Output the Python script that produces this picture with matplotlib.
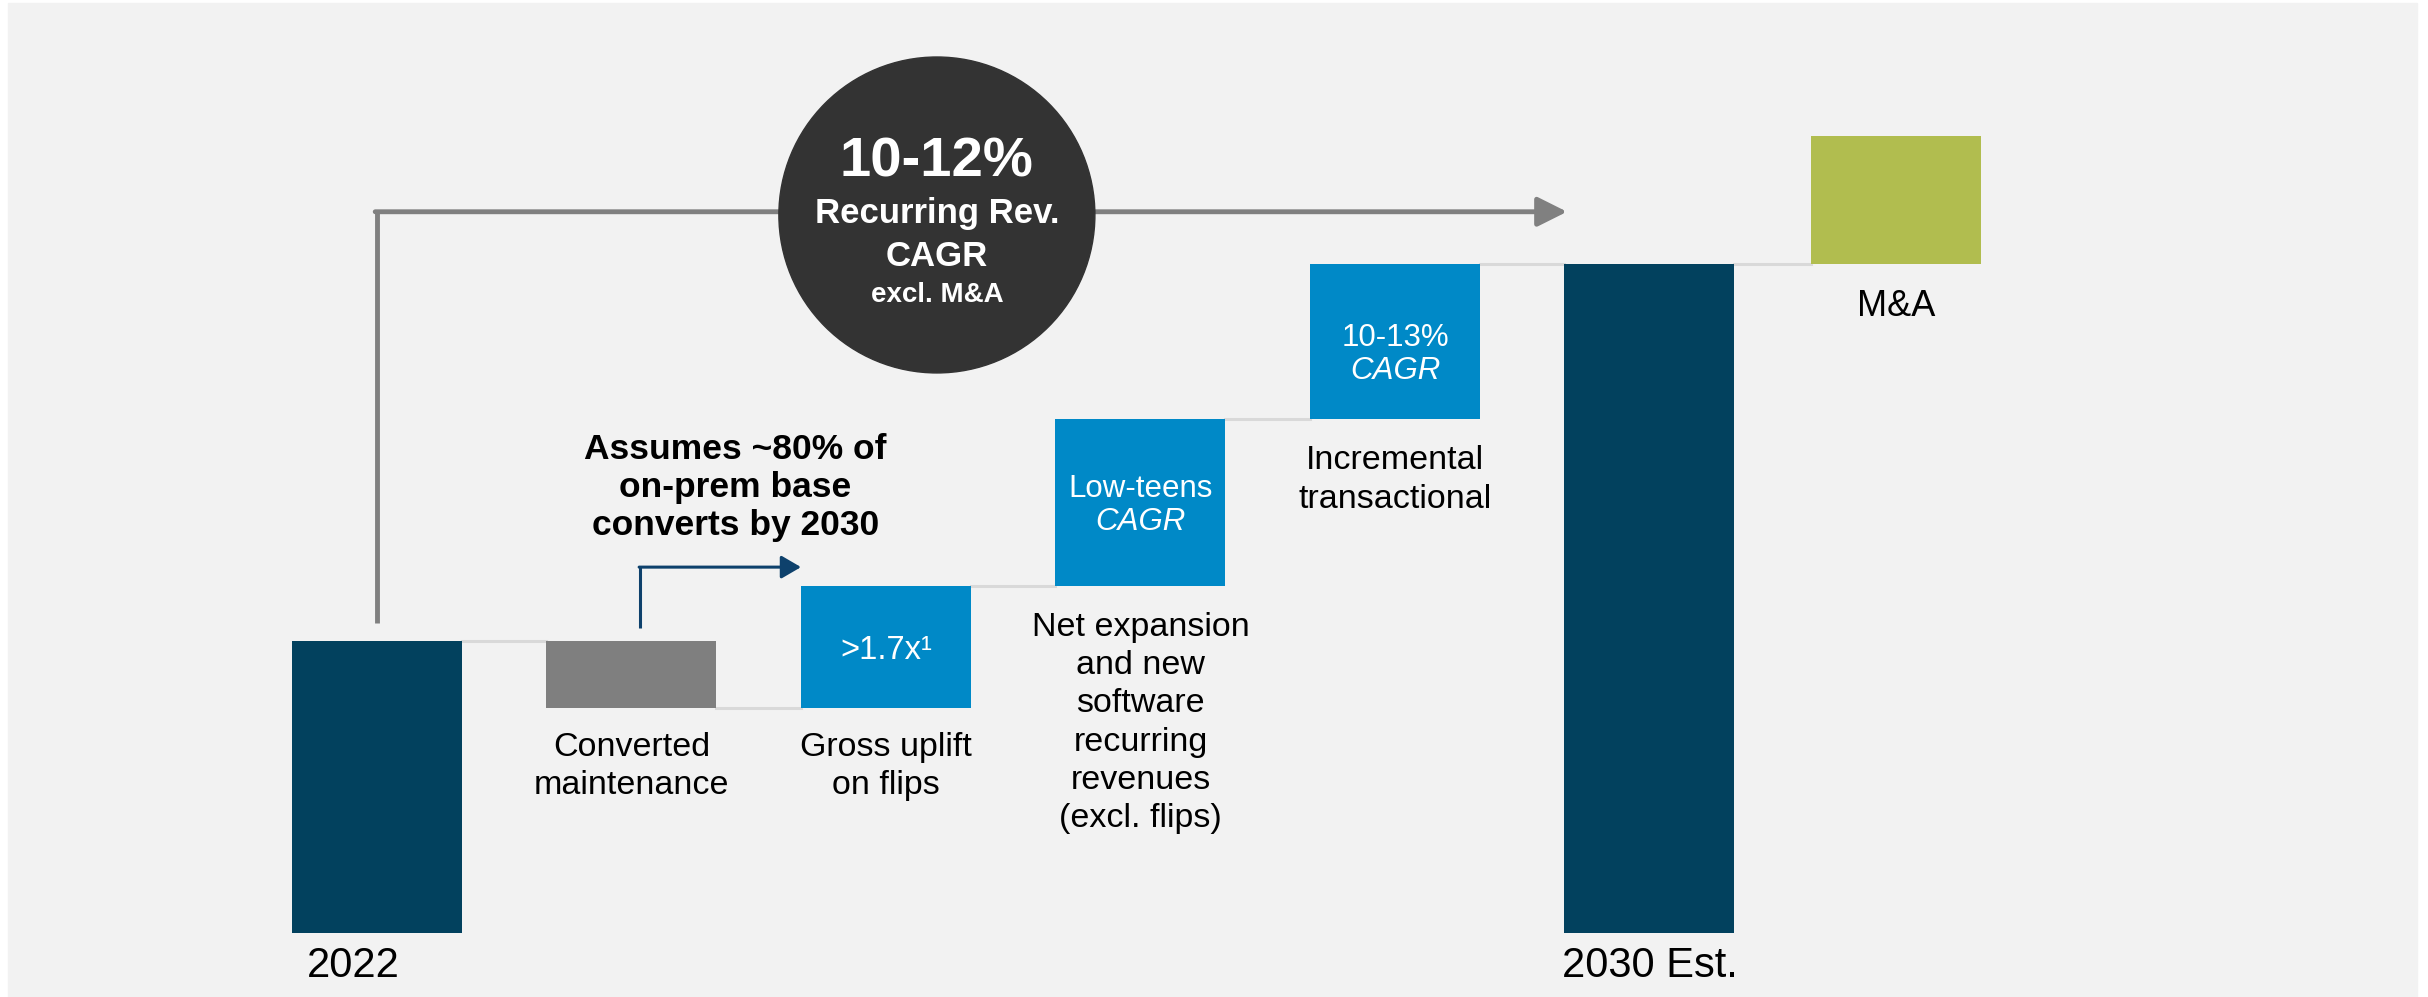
import numpy as np
import matplotlib.pyplot as plt
from matplotlib.patches import Rectangle, Ellipse

plt.rcParams['font.family'] = ['Liberation Sans', 'DejaVu Sans']

# recurring revenue bridge, 2022 indexed to 100
labels = ['2022', 'Converted\nmaintenance', 'Gross uplift\non flips',
          'Net expansion\nand new\nsoftware\nrecurring\nrevenues\n(excl. flips)',
          'Incremental\ntransactional', '2030 Est.', 'M&A']
start_value = 100
step_values = [-23, 42, 57, 53]
ma_value = 44
box_top = ['>1.7x\u00b9', 'Low-teens', '10-13%']
box_sub = ['', 'CAGR', 'CAGR']

navy = '#02415e'
grey = '#7f7f7f'
blue = '#0089c7'
green = '#b1bd4f'
colors = [navy, grey, blue, blue, blue, navy, green]

# stack the waterfall
bottoms = [0]
heights = [start_value]
levels = [start_value]
running = start_value
for d in step_values:
    bottoms.append(running + min(d, 0))
    heights.append(abs(d))
    running += d
    levels.append(running)
bottoms += [0, running]
heights += [running, ma_value]
levels.append(running)

x = np.arange(len(labels), dtype=float)
x[-1] -= 0.03
w = 0.668

fig = plt.figure(figsize=(24.28, 9.97), dpi=100)
ax = fig.add_axes([0, 0, 1, 1])
ax.set_xlim(-1.4813, 8.059)
ax.set_ylim(-21.92, 319.52)
ax.axis('off')
ax.add_patch(Rectangle((8 / 2428, 0), 2409 / 2428, 994 / 997, transform=fig.transFigure,
                       color='#f2f2f2', zorder=0, clip_on=False))

ax.bar(x, heights, bottom=bottoms, width=w, color=colors, zorder=3)

# thin connectors between steps
for i in range(len(x) - 1):
    ax.plot([x[i] + w / 2, x[i + 1] - w / 2], [levels[i], levels[i]],
            color='#d9d9d9', lw=2.2, zorder=2)

# text inside the blue steps
nudge = [0, 0, -7]
for j, (t, s) in enumerate(zip(box_top, box_sub)):
    i = j + 2
    yc = bottoms[i] + heights[i] / 2
    if s:
        ax.annotate(t, (x[i], yc), xytext=(0, 4 + nudge[j]), textcoords='offset points',
                    ha='center', va='baseline', color='white', fontsize=22.5, zorder=5)
        ax.annotate(s, (x[i], yc), xytext=(0, -20 + nudge[j]), textcoords='offset points',
                    ha='center', va='baseline', color='white', fontsize=22.5,
                    style='italic', zorder=5)
    else:
        ax.annotate(t, (x[i], yc), xytext=(0, -9), textcoords='offset points',
                    ha='center', va='baseline', color='white', fontsize=23.5, zorder=5)

# labels under the steps
for i in range(1, 5):
    ax.annotate(labels[i], (x[i], bottoms[i]), xytext=(0, -17 if i < 3 else -19),
                textcoords='offset points', ha='center', va='top',
                fontsize=24.5, linespacing=1.3)
ax.annotate(labels[6], (x[6], bottoms[6]), xytext=(0, -37),
            textcoords='offset points', ha='center', va='baseline', fontsize=26)
ax.annotate(labels[0], (x[0], 0), xytext=(-17, -32), textcoords='offset points',
            ha='center', va='baseline', fontsize=30)
ax.annotate(labels[5], (x[5], 0), xytext=(0, -32), textcoords='offset points',
            ha='center', va='baseline', fontsize=30)

# overall CAGR arrow with the circle on it
arrow_y = 247
ax.plot([x[0], x[0]], [start_value + 6, arrow_y], color='#808080', lw=3.5,
        solid_capstyle='butt', zorder=2)
ax.annotate('', xy=(4.676, arrow_y), xytext=(x[0] - 0.007, arrow_y),
            arrowprops=dict(arrowstyle='-|>,head_length=0.9,head_width=0.45',
                            mutation_scale=20, color='#808080', lw=3.5,
                            shrinkA=0, shrinkB=0), zorder=2)
ax.add_patch(Ellipse((2.2, 245.9), 1.2417, 108.2, color='#333333', zorder=4))
ax.text(2.2, 259.1, '10-12%', ha='center', va='baseline', color='white',
        fontsize=40.5, fontweight='bold', zorder=5)
ax.text(2.2, 243.1, 'Recurring Rev.', ha='center', va='baseline', color='white',
        fontsize=25, fontweight='bold', zorder=5)
ax.text(2.2, 228.3, 'CAGR', ha='center', va='baseline', color='white',
        fontsize=25, fontweight='bold', zorder=5)
ax.text(2.2, 216.1, 'excl. M&A', ha='center', va='baseline', color='white',
        fontsize=20, fontweight='bold', zorder=5)

# conversion note with its small arrow
ax.plot([1.033, 1.033], [104.5, 125.3], color='#0e416c', lw=2.2,
        solid_capstyle='butt', zorder=2)
ax.annotate('', xy=(x[2] - w / 2, 125.3), xytext=(1.033 - 0.003, 125.3),
            arrowprops=dict(arrowstyle='-|>,head_length=0.6,head_width=0.35',
                            mutation_scale=20, color='#0e416c', lw=2.2,
                            shrinkA=0, shrinkB=0), zorder=2)
ax.text(1.409, 171.2, 'Assumes ~80% of\non-prem base\nconverts by 2030',
        ha='center', va='top', fontsize=25.5, fontweight='bold',
        linespacing=1.2)

fig.savefig('out.png', dpi=100, facecolor='white')
